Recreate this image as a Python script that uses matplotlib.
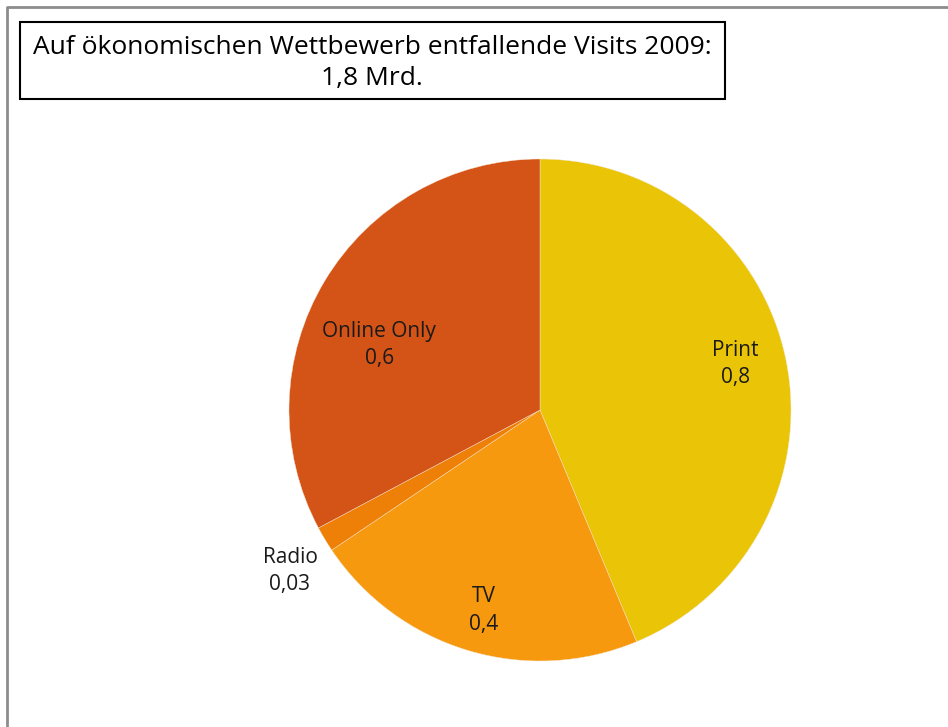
import numpy as np
import matplotlib.pyplot as plt
from matplotlib.patches import Rectangle
from matplotlib.lines import Line2D

plt.rcParams['font.family'] = ['Open Sans', 'DejaVu Sans']

# data
categories = ['Print', 'TV', 'Radio', 'Online Only']
values = [0.8, 0.4, 0.03, 0.6]
value_labels = ['0,8', '0,4', '0,03', '0,6']
colors = ['#EAC406', '#F7990E', '#EE7F07', '#D45316']
title_lines = ['Auf ökonomischen Wettbewerb entfallende Visits 2009:', '1,8 Mrd.']

W, H = 948, 727
fig = plt.figure(figsize=(W / 100, H / 100), dpi=100)
ax = fig.add_axes([0, 0, 1, 1])

cx, cy, r = 540, H - 410, 251
wedges, _ = ax.pie(values, colors=colors, startangle=90, counterclock=False,
                   center=(cx, cy), radius=r, frame=True,
                   wedgeprops=dict(edgecolor='#f4e6d0', linewidth=0.3))
ax.set_xlim(0, W)
ax.set_ylim(0, H)
ax.set_aspect('equal')
ax.axis('off')

# label placement: (fraction of radius, angle offset in degrees)
label_pos = [(0.80, 2), (0.83, 1), (1.185, 1.8), (0.69, 9)]
for w, name, val, (d, off) in zip(wedges, categories, value_labels, label_pos):
    ang = np.deg2rad((w.theta1 + w.theta2) / 2 + off)
    x = cx + d * r * np.cos(ang)
    y = cy + d * r * np.sin(ang)
    ax.text(x, y, name + '\n' + val, ha='center', va='center',
            fontsize=15, color='#1a1a1a', linespacing=1.4)

# outer frame (gray, left and top)
fig.add_artist(Line2D([7 / W, 7 / W, 1], [0, 1 - 7 / H, 1 - 7 / H],
                      transform=fig.transFigure, color='#8c8c8c', lw=2))

# title box
fig.add_artist(Rectangle((20 / W, 1 - 99 / H), 705 / W, 77 / H,
                         transform=fig.transFigure, fill=False,
                         edgecolor='black', lw=1.5))
fig.text(372 / W, 1 - 47 / H, title_lines[0], ha='center', va='center',
         fontsize=19, color='black')
fig.text(372 / W, 1 - 78 / H, title_lines[1], ha='center', va='center',
         fontsize=19, color='black')

fig.savefig('out.png', dpi=100)
